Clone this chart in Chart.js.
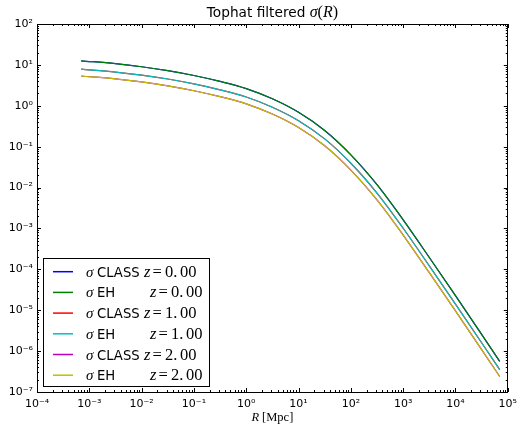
<!DOCTYPE html>
<html><head><meta charset="utf-8">
<script src="https://cdn.jsdelivr.net/npm/chart.js@4/dist/chart.umd.min.js"></script>
<style>html,body{margin:0;padding:0;background:#fff}#c{display:block}</style>
</head><body>
<canvas id="c" width="523" height="427"></canvas>
<script>
const radii = [7e-4, 3.16e-3, 1e-2, 3.16e-2, 1e-1, 3.16e-1, 1, 3.16, 10, 31.6, 100, 316, 1000, 3160, 1e4, 3.16e4, 7e4];
// sigma(R), z = 0
const sigmaClassZ0 = [12.59, 10.72, 9.02, 7.24, 5.50, 3.94, 2.63, 1.479, 0.692, 0.2483, 0.0631, 0.01175, 1.622e-3, 1.95e-4, 2.265e-5, 2.57e-6, 5.62e-7];
const sigmaEhZ0    = [12.59, 10.72, 9.02, 7.24, 5.50, 3.94, 2.63, 1.479, 0.692, 0.2483, 0.0631, 0.01175, 1.622e-3, 1.95e-4, 2.265e-5, 2.57e-6, 5.62e-7];
// sigma(R), z = 1
const sigmaClassZ1 = [7.85, 6.68, 5.62, 4.52, 3.43, 2.455, 1.641, 0.9226, 0.4315, 0.1549, 0.03936, 7.33e-3, 1.012e-3, 1.216e-4, 1.413e-5, 1.603e-6, 3.51e-7];
const sigmaEhZ1    = [7.85, 6.68, 5.62, 4.52, 3.43, 2.455, 1.641, 0.9226, 0.4315, 0.1549, 0.03936, 7.33e-3, 1.012e-3, 1.216e-4, 1.413e-5, 1.603e-6, 3.51e-7];
// sigma(R), z = 2
const sigmaClassZ2 = [5.35, 4.55, 3.83, 3.08, 2.333, 1.671, 1.117, 0.628, 0.2938, 0.1054, 0.02679, 4.99e-3, 6.89e-4, 8.28e-5, 9.62e-6, 1.091e-6, 2.39e-7];
const sigmaEhZ2    = [5.35, 4.55, 3.83, 3.08, 2.333, 1.671, 1.117, 0.628, 0.2938, 0.1054, 0.02679, 4.99e-3, 6.89e-4, 8.28e-5, 9.62e-6, 1.091e-6, 2.39e-7];

const seriesNames = ['CLASS', 'EH', 'CLASS', 'EH', 'CLASS', 'EH'];
const seriesRedshifts = ['0.00', '0.00', '1.00', '1.00', '2.00', '2.00'];
const seriesColors = ['#0000ff', '#008000', '#ff0000', '#00bfbf', '#bf00bf', '#bfbf00'];
const seriesValues = [sigmaClassZ0, sigmaEhZ0, sigmaClassZ1, sigmaEhZ1, sigmaClassZ2, sigmaEhZ2];

const xTickValues = [1e-4, 1e-3, 1e-2, 1e-1, 1e0, 1e1, 1e2, 1e3, 1e4, 1e5];
const xTickLabels = ['10⁻⁴', '10⁻³', '10⁻²', '10⁻¹', '10⁰', '10¹', '10²', '10³', '10⁴', '10⁵'];
const yTickValues = [1e-7, 1e-6, 1e-5, 1e-4, 1e-3, 1e-2, 1e-1, 1e0, 1e1, 1e2];
const yTickLabels = ['10⁻⁷', '10⁻⁶', '10⁻⁵', '10⁻⁴', '10⁻³', '10⁻²', '10⁻¹', '10⁰', '10¹', '10²'];

const titleText = 'Tophat filtered ';
const SANS = '"DejaVu Sans"';
const SERIF = '"Liberation Serif"';

const datasets = seriesValues.map((vals, i) => ({
  label: seriesNames[i] + ' z=' + seriesRedshifts[i],
  data: radii.map((r, k) => ({x: r, y: vals[k]})),
  borderColor: seriesColors[i],
  backgroundColor: seriesColors[i],
  borderWidth: 1.2,
  pointRadius: 0,
  fill: false,
  cubicInterpolationMode: 'monotone',
  order: seriesValues.length - i
}));

function drawSegments(ctx, segs, x, y) {
  for (const s of segs) {
    ctx.font = s.f;
    if (s.dx) x += s.dx;
    ctx.fillText(s.t, x, y);
    x += ctx.measureText(s.t).width;
  }
  return x;
}
function segWidth(ctx, segs) {
  let w = 0;
  for (const s of segs) { ctx.font = s.f; w += ctx.measureText(s.t).width + (s.dx || 0); }
  return w;
}

const decorPlugin = {
  id: 'decor',
  afterDraw(chart) {
    const ctx = chart.ctx;
    const a = chart.chartArea;
    const xs = chart.scales.x, ys = chart.scales.y;
    ctx.save();
    // ticks (inward, all sides)
    ctx.strokeStyle = '#000';
    ctx.lineWidth = 1;
    ctx.beginPath();
    for (let e = -4; e <= 5; e++) {
      for (let m = 1; m <= 9; m++) {
        if (e === 5 && m > 1) break;
        const v = m * Math.pow(10, e);
        const px = Math.round(xs.getPixelForValue(v)) + 0.5;
        const L = m === 1 ? 4 : 2;
        ctx.moveTo(px, a.bottom); ctx.lineTo(px, a.bottom - L);
        ctx.moveTo(px, a.top); ctx.lineTo(px, a.top + L);
      }
    }
    for (let e = -7; e <= 2; e++) {
      for (let m = 1; m <= 9; m++) {
        if (e === 2 && m > 1) break;
        const v = m * Math.pow(10, e);
        const py = Math.round(ys.getPixelForValue(v)) + 0.5;
        const L = m === 1 ? 4 : 2;
        ctx.moveTo(a.left, py); ctx.lineTo(a.left + L, py);
        ctx.moveTo(a.right, py); ctx.lineTo(a.right - L, py);
      }
    }
    ctx.stroke();
    // frame
    ctx.strokeRect(Math.round(a.left) + 0.5, Math.round(a.top) + 0.5, Math.round(a.right - a.left) - 1, Math.round(a.bottom - a.top));

    ctx.fillStyle = '#000';
    ctx.textBaseline = 'alphabetic';
    ctx.textAlign = 'left';
    // title
    const tsegs = [
      {t: titleText, f: '13.7px ' + SANS},
      {t: 'σ', f: 'italic 16px ' + SERIF},
      {t: '(', f: '16px ' + SERIF},
      {t: 'R', f: 'italic 16px ' + SERIF},
      {t: ')', f: '16px ' + SERIF}
    ];
    drawSegments(ctx, tsegs, (a.left + a.right) / 2 - segWidth(ctx, tsegs) / 2, 17);
    // x label
    const xsegs = [
      {t: 'R', f: 'italic 12.5px ' + SERIF},
      {t: '[Mpc]', f: '12.5px ' + SERIF, dx: 3}
    ];
    drawSegments(ctx, xsegs, (a.left + a.right) / 2 - segWidth(ctx, xsegs) / 2, 421);

    // legend
    const lx = 43, ly = 258, lw = 166, lh = 128;
    ctx.fillStyle = '#fff';
    ctx.fillRect(lx, ly, lw, lh);
    ctx.strokeStyle = '#000';
    ctx.lineWidth = 1;
    ctx.strokeRect(lx + 0.5, ly + 0.5, lw, lh);
    chart.data.datasets.forEach((ds, i) => {
      const y = 271.7 + i * 20.7;
      ctx.strokeStyle = ds.borderColor;
      ctx.lineWidth = 1.5;
      ctx.beginPath();
      ctx.moveTo(53, y); ctx.lineTo(73, y);
      ctx.stroke();
      ctx.fillStyle = '#000';
      const base = y + 5;
      ctx.font = 'italic 15px ' + SERIF;
      ctx.fillText('σ', 86, base);
      ctx.font = '13.2px ' + SANS;
      ctx.fillText(seriesNames[i], 97, base);
      const zx = seriesNames[i] === 'CLASS' ? 144 : 150;
      ctx.font = 'italic 16.5px ' + SERIF;
      ctx.fillText('z', zx, base);
      ctx.font = '16.5px ' + SERIF;
      ctx.fillText('=', zx + 8.5, base);
      const parts = seriesRedshifts[i].split('.');
      ctx.fillText(parts[0] + '.', zx + 21, base);
      ctx.fillText(parts[1], zx + 21 + ctx.measureText(parts[0] + '.').width + 2.5, base);
    });
    ctx.restore();
  }
};

new Chart(document.getElementById('c'), {
  type: 'line',
  data: {datasets},
  options: {
    responsive: false,
    animation: false,
    devicePixelRatio: 1,
    layout: {padding: {top: 24, right: 12, left: 0, bottom: 0}},
    plugins: {legend: {display: false}, title: {display: false}, tooltip: {enabled: false}},
    scales: {
      x: {
        type: 'logarithmic',
        min: 1e-4, max: 1e5,
        afterBuildTicks: s => { s.ticks = xTickValues.map(v => ({value: v})); },
        afterFit: s => { s.height = 35; },
        grid: {display: false, drawTicks: false, tickLength: 0},
        border: {display: false},
        ticks: {
          autoSkip: false, maxRotation: 0, padding: 6,
          color: '#000', font: {family: 'DejaVu Sans', size: 11},
          callback: (v, i) => xTickLabels[i]
        }
      },
      y: {
        type: 'logarithmic',
        min: 1e-7, max: 1e2,
        afterBuildTicks: s => { s.ticks = yTickValues.map(v => ({value: v})); },
        afterFit: s => { s.width = 37; },
        grid: {display: false, drawTicks: false, tickLength: 0},
        border: {display: false},
        ticks: {
          autoSkip: false, padding: 4,
          color: '#000', font: {family: 'DejaVu Sans', size: 11},
          callback: (v, i) => yTickLabels[i]
        }
      }
    }
  },
  plugins: [decorPlugin]
});
</script>
</body></html>
